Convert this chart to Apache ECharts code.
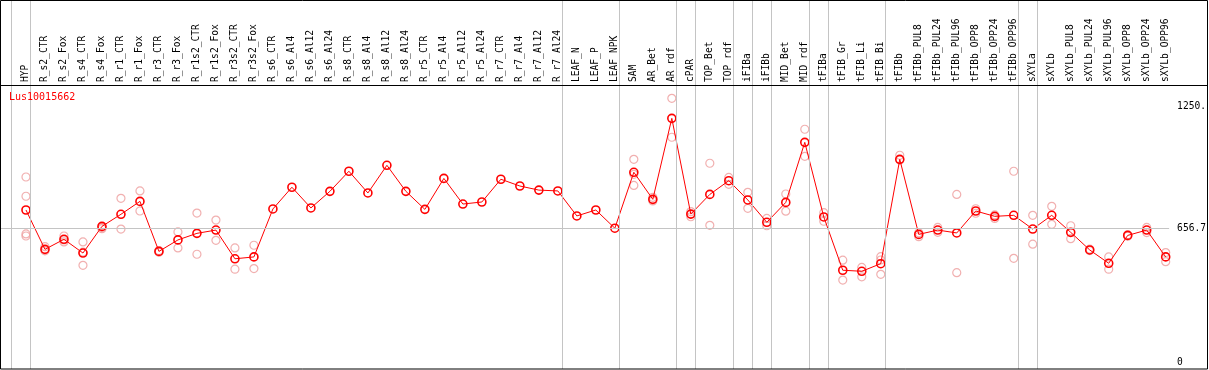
<!DOCTYPE html>
<html><head><meta charset="utf-8">
<script src="https://cdn.jsdelivr.net/npm/echarts@6/dist/echarts.min.js"></script>
<style>html,body{margin:0;padding:0;background:#fff}#c{width:1209px;height:370px}</style>
</head><body><div id="c"></div>
<script>
const geneName = 'Lus10015662';
const categories = ['HYP','R_s2_CTR','R_s2_Fox','R_s4_CTR','R_s4_Fox','R_r1_CTR','R_r1_Fox','R_r3_CTR','R_r3_Fox','R_r1s2_CTR','R_r1s2_Fox','R_r3s2_CTR','R_r3s2_Fox','R_s6_CTR','R_s6_Al4','R_s6_Al12','R_s6_Al24','R_s8_CTR','R_s8_Al4','R_s8_Al12','R_s8_Al24','R_r5_CTR','R_r5_Al4','R_r5_Al12','R_r5_Al24','R_r7_CTR','R_r7_Al4','R_r7_Al12','R_r7_Al24','LEAF_N','LEAF_P','LEAF_NPK','SAM','AR_Bet','AR_rdf','cPAR','TOP_Bet','TOP_rdf','iFIBa','iFIBb','MID_Bet','MID_rdf','tFIBa','tFIB_Gr','tFIB_Li','tFIB_Bi','tFIBb','tFIBb_PUL8','tFIBb_PUL24','tFIBb_PUL96','tFIBb_OPP8','tFIBb_OPP24','tFIBb_OPP96','sXYLa','sXYLb','sXYLb_PUL8','sXYLb_PUL24','sXYLb_PUL96','sXYLb_OPP8','sXYLb_OPP24','sXYLb_OPP96'];
const means = [746,554,603,536,666,725,788,544,600,632,648,508,517,751,857,756,837,935,829,964,837,749,900,775,785,896,863,843,839,717,746,657,930,798,1193,726,822,889,795,686,783,1076,712,452,447,484,993,627,648,634,741,715,720,653,720,637,551,486,622,648,517];
const replicates = [
 [907,813,629,619],[567,547],[619,590,600],[590,476,540],[661,655],[803,653],[839,741],[548,540],[639,561],[731,530],[697,598],[561,457],[574,460],
 [],[],[],[],[],[],[],[],[],[],[],[],[],[],[],[],[],[],[],
 [993,920,866],[808,790],[1291,1101],[738,713],[974,671],[905,871],[832,754],[705,669],[824,740],[1140,1008],[733,691],[501,404],[466,420],[518,502,432],
 [1013,990],[616,635],[661,637],[822,440],[752,730],[705,722],[935,510],[720,579],[764,676],[669,606],[555,548],[517,457],[625,618],[661,636],[538,494]
];
const groupEnds = [-1,0,28,31,34,35,37,38,39,41,42,45,52,53,60];
const yTickValues = [0, 656.7, 1250];
const yTickLabels = ['0', '656.7', '1250.'];
const refValue = 656.7;

const FONT = 'DejaVu Sans Mono';
const XMIN = -1.315, XMAX = 60.18;
const repData = [];
replicates.forEach((arr, i) => arr.forEach(v => repData.push([i, v])));
const meanData = means.map((v, i) => [i, v]);

const chart = echarts.init(document.getElementById('c'), null, {renderer: 'canvas'});
chart.setOption({
  animation: false,
  backgroundColor: '#fff',
  title: {text: geneName, left: 9, top: 92, padding: 0,
    textStyle: {color: '#ff0000', fontSize: 10, fontWeight: 'normal', fontFamily: FONT}},
  grid: [
    {left: 1, right: 39, top: 0, bottom: 1},
    {left: 1, right: 39, top: 85, bottom: 1}
  ],
  xAxis: [
    {gridIndex: 0, type: 'value', min: XMIN, max: XMAX, show: false},
    {gridIndex: 1, type: 'value', min: XMIN, max: XMAX, position: 'top',
      axisLine: {show: false}, axisTick: {show: false}, splitLine: {show: false},
      axisLabel: {customValues: categories.map((_, i) => i), rotate: 90, margin: 3,
        formatter: v => categories[Math.round(v)], color: '#000', fontSize: 9.6, fontFamily: FONT}}
  ],
  yAxis: [
    {gridIndex: 0, type: 'value', min: 0, max: 1, show: false},
    {gridIndex: 1, type: 'value', min: -29.8, max: 1355.8, position: 'right',
      axisLine: {show: false}, axisTick: {show: false}, splitLine: {show: false},
      axisLabel: {customValues: yTickValues, align: 'left', margin: 8,
        formatter: v => yTickLabels[yTickValues.indexOf(v)] ?? '', color: '#000', fontSize: 9.6, fontFamily: FONT}}
  ],
  series: [
    {type: 'scatter', xAxisIndex: 0, yAxisIndex: 0, data: [], silent: true, z: 1,
      markLine: {silent: true, symbol: 'none', label: {show: false},
        lineStyle: {color: '#c4c4c4', width: 1, type: 'solid'},
        data: groupEnds.map(e => ({xAxis: e + 0.21}))}},
    {type: 'scatter', xAxisIndex: 1, yAxisIndex: 1, data: repData, z: 2,
      symbol: 'circle', symbolSize: 8,
      itemStyle: {color: 'rgba(0,0,0,0)', borderColor: '#ee9c9c', borderWidth: 1.2},
      markLine: {silent: true, symbol: 'none', label: {show: false},
        lineStyle: {color: '#c4c4c4', width: 1, type: 'solid'},
        data: [{yAxis: refValue}]}},
    {type: 'line', xAxisIndex: 1, yAxisIndex: 1, data: meanData, z: 3,
      symbol: 'circle', symbolSize: 8,
      lineStyle: {color: '#ff0000', width: 1},
      itemStyle: {color: 'rgba(0,0,0,0)', borderColor: '#ff0000', borderWidth: 1.6}}
  ],
  graphic: [
    {type: 'rect', silent: true, z: 10, shape: {x: 0.5, y: 0.5, width: 1207, height: 368.5},
      style: {fill: null, stroke: '#000', lineWidth: 1}},
    {type: 'line', silent: true, z: 10, shape: {x1: 0, y1: 85.5, x2: 1208, y2: 85.5},
      style: {stroke: '#000', lineWidth: 1}}
  ]
});
</script></body></html>
